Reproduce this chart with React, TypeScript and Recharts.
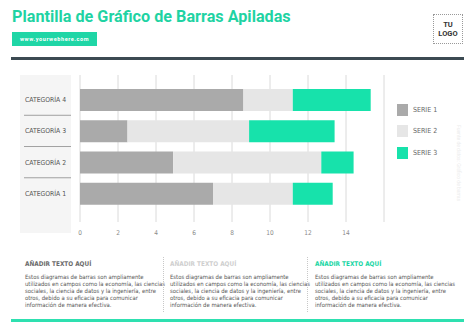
import { Bar, BarChart, CartesianGrid, Legend, XAxis, YAxis } from "recharts";

const categories = ["CATEGORÍA 1", "CATEGORÍA 2", "CATEGORÍA 3", "CATEGORÍA 4"];
const serie1 = [7.0, 4.9, 2.5, 8.6];
const serie2 = [4.2, 7.8, 6.4, 2.6];
const serie3 = [2.1, 1.7, 4.5, 4.1];
const xTicks = [0, 2, 4, 6, 8, 10, 12, 14];
const seriesNames = ["SERIE 1", "SERIE 2", "SERIE 3"];
const seriesColors = ["#aaaaaa", "#e6e6e6", "#17e2ab"];

const blurb = [
  "Estos diagramas de barras son ampliamente",
  "utilizados en campos como la economía, las ciencias",
  "sociales, la ciencia de datos y la ingeniería, entre",
  "otros, debido a su eficacia para comunicar",
  "información de manera efectiva.",
];
const headingColors = ["#6b6b6b", "#cfcfcf", "#19d6a4"];

const data = categories.map((c, i) => ({ category: c, s1: serie1[i], s2: serie2[i], s3: serie3[i] }));

const font = "Roboto, 'Noto Sans', sans-serif";
const narrow = "'Liberation Sans Narrow', 'DejaVu Sans Condensed', Roboto, sans-serif";

function CategoryTick({ y, payload }: any) {
  const last = payload.value === categories[categories.length - 1];
  return (
    <g>
      <text x={25} y={y} dy={2.5} fontSize={6.8} fontFamily={narrow} fill="#555555">
        {payload.value}
      </text>
      {!last && <line x1={24} x2={71} y1={y - 15.6} y2={y - 15.6} stroke="#8a8a8a" strokeWidth={0.8} />}
    </g>
  );
}

function LegendBox() {
  return (
    <div style={{ fontFamily: narrow }}>
      {seriesNames.map((n, i) => (
        <div key={n} style={{ display: "flex", alignItems: "center", height: 21.5 }}>
          <div style={{ width: 11, height: 12, background: seriesColors[i] }} />
          <span style={{ marginLeft: 5, fontSize: 7, color: "#666666" }}>{n}</span>
        </div>
      ))}
    </div>
  );
}

export default function App() {
  return (
    <div style={{ position: "absolute", left: 0, top: 0, width: 475, height: 335, background: "#fff", overflow: "hidden", fontFamily: font }}>
      <div style={{ position: "absolute", left: 12, top: 7, fontSize: 16.2, fontWeight: 700, color: "#1fd3a3", whiteSpace: "nowrap" }}>
        Plantilla de Gráfico de Barras Apiladas
      </div>
      <div style={{ position: "absolute", left: 12, top: 32, width: 85, height: 14, background: "#1fd6a6", color: "#fff", fontSize: 5.5, fontWeight: 700, letterSpacing: 0.6, lineHeight: "14px", textAlign: "center" }}>
        www.yourwebhere.com
      </div>
      <div style={{ position: "absolute", left: 433, top: 14, width: 28, height: 28, border: "1px dotted #999", display: "flex", flexDirection: "column", alignItems: "center", justifyContent: "center", fontSize: 7.5, fontWeight: 700, color: "#333", lineHeight: "9px" }}>
        <span>TU</span>
        <span>LOGO</span>
      </div>
      <div style={{ position: "absolute", left: 11, top: 57, width: 453, height: 2.5, background: "#3c4a52" }} />

      <div style={{ position: "absolute", left: 20, top: 75, width: 51, height: 158, background: "#f5f5f5" }} />

      <div style={{ position: "absolute", left: 0, top: 0 }}>
        <BarChart
          width={475}
          height={335}
          data={data}
          layout="vertical"
          margin={{ top: 75, right: 91, bottom: 83, left: 20 }}
          barSize={22}
        >
          <CartesianGrid horizontal={false} stroke="#dadada" />
          <XAxis type="number" domain={[0, 16]} ticks={xTicks} height={30} axisLine={false} tickLine={false} tick={{ fontSize: 6.5, fill: "#8a8a8a", fontFamily: narrow }} />
          <YAxis type="category" dataKey="category" reversed interval={0} width={60} axisLine={false} tickLine={false} tick={<CategoryTick />} padding={{ top: 9, bottom: 13 }} />
          <Legend layout="vertical" align="center" verticalAlign="middle" content={<LegendBox />} wrapperStyle={{ position: "absolute", left: 397, top: 99, width: 60 }} />
          <Bar dataKey="s1" stackId="a" name={seriesNames[0]} fill={seriesColors[0]} isAnimationActive={false} />
          <Bar dataKey="s2" stackId="a" name={seriesNames[1]} fill={seriesColors[1]} isAnimationActive={false} />
          <Bar dataKey="s3" stackId="a" name={seriesNames[2]} fill={seriesColors[2]} isAnimationActive={false} />
        </BarChart>
      </div>

      <div style={{ position: "absolute", left: 462, top: 125, transform: "rotate(90deg)", transformOrigin: "left top", fontSize: 5, color: "#ececec", whiteSpace: "nowrap" }}>
        Fuente de datos: Gráfico de barras
      </div>

      {[0, 1, 2].map((i) => (
        <div key={"h" + i} style={{ position: "absolute", left: 25 + i * 145, top: 260, fontSize: 6.4, fontWeight: 700, color: headingColors[i], fontFamily: narrow, lineHeight: "8px", whiteSpace: "nowrap" }}>
          AÑADIR TEXTO AQUÍ
        </div>
      ))}
      {[0, 1, 2].map((i) => (
        <div key={"b" + i} style={{ position: "absolute", left: 25 + i * 145, top: 274, fontSize: 5.9, lineHeight: "7px", color: "#555", fontFamily: narrow }}>
          {blurb.map((l) => (
            <div key={l} style={{ whiteSpace: "nowrap" }}>{l}</div>
          ))}
        </div>
      ))}
      <div style={{ position: "absolute", left: 163, top: 257, height: 55, borderLeft: "1px dotted #c8c8c8" }} />
      <div style={{ position: "absolute", left: 307, top: 257, height: 55, borderLeft: "1px dotted #c8c8c8" }} />
      <div style={{ position: "absolute", left: 11, top: 319, width: 453, height: 2.5, background: "#2ee0b0" }} />
    </div>
  );
}
